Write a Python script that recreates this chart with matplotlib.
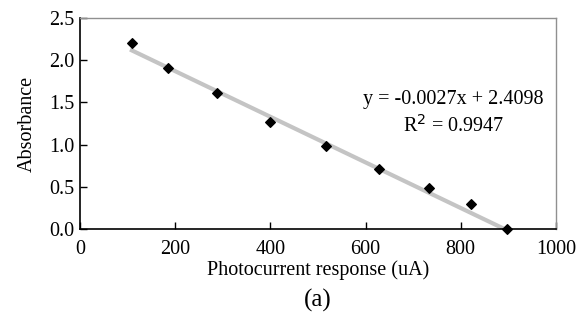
import matplotlib
matplotlib.use("Agg")
import matplotlib.pyplot as plt
import numpy as np

photocurrent = [109, 185, 287, 399, 517, 628, 733, 821, 897]
absorbance = [2.20, 1.91, 1.61, 1.27, 0.98, 0.71, 0.49, 0.30, 0.0]
slope = -0.0027
intercept = 2.4098
r2 = 0.9947

plt.rcParams['font.family'] = ['Liberation Serif', 'DejaVu Serif']

fig = plt.figure(figsize=(5.87, 3.2), dpi=100)
ax = fig.add_axes([0.1363, 0.284, 0.947 - 0.1363, 0.944 - 0.284])

# trend line over the data range
xs = np.array([min(photocurrent), max(photocurrent)])
ax.plot(xs, slope * xs + intercept, color='#c4c4c4', lw=3, zorder=2)
ax.scatter(photocurrent, absorbance, marker='D', s=24, color='black', zorder=3, clip_on=False)

ax.set_xlim(0, 1000)
ax.set_ylim(0, 2.5)
ax.set_xticks([0, 200, 400, 600, 800, 1000])
ax.set_yticks([0.0, 0.5, 1.0, 1.5, 2.0, 2.5])
ax.set_yticklabels(['0.0', '0.5', '1.0', '1.5', '2.0', '2.5'])
ax.tick_params(direction='in', length=5, width=1, labelsize=14.5)
ax.tick_params(axis='x', pad=8)
ax.tick_params(axis='y', pad=4)
ax.tick_params(top=False, right=False)
for s in ['left', 'bottom']:
    ax.spines[s].set_color('black')
    ax.spines[s].set_linewidth(1.2)
for s in ['top', 'right']:
    ax.spines[s].set_color('#909090')
    ax.spines[s].set_linewidth(1)

ax.set_xlabel('Photocurrent response (uA)', fontsize=14.5, labelpad=1)
ax.set_ylabel('Absorbance', fontsize=14.5, labelpad=9)

ax.text(0.785, 0.615, f'y = {slope}x + {intercept}', transform=ax.transAxes,
        ha='center', va='center', fontsize=14.5)
ax.text(0.785, 0.49, f'R$^2$ = {r2}', transform=ax.transAxes,
        ha='center', va='center', fontsize=14.5)

fig.text(0.542, 0.06, '(a)', ha='center', va='center', fontsize=18)

fig.savefig('out.png', dpi=100)
